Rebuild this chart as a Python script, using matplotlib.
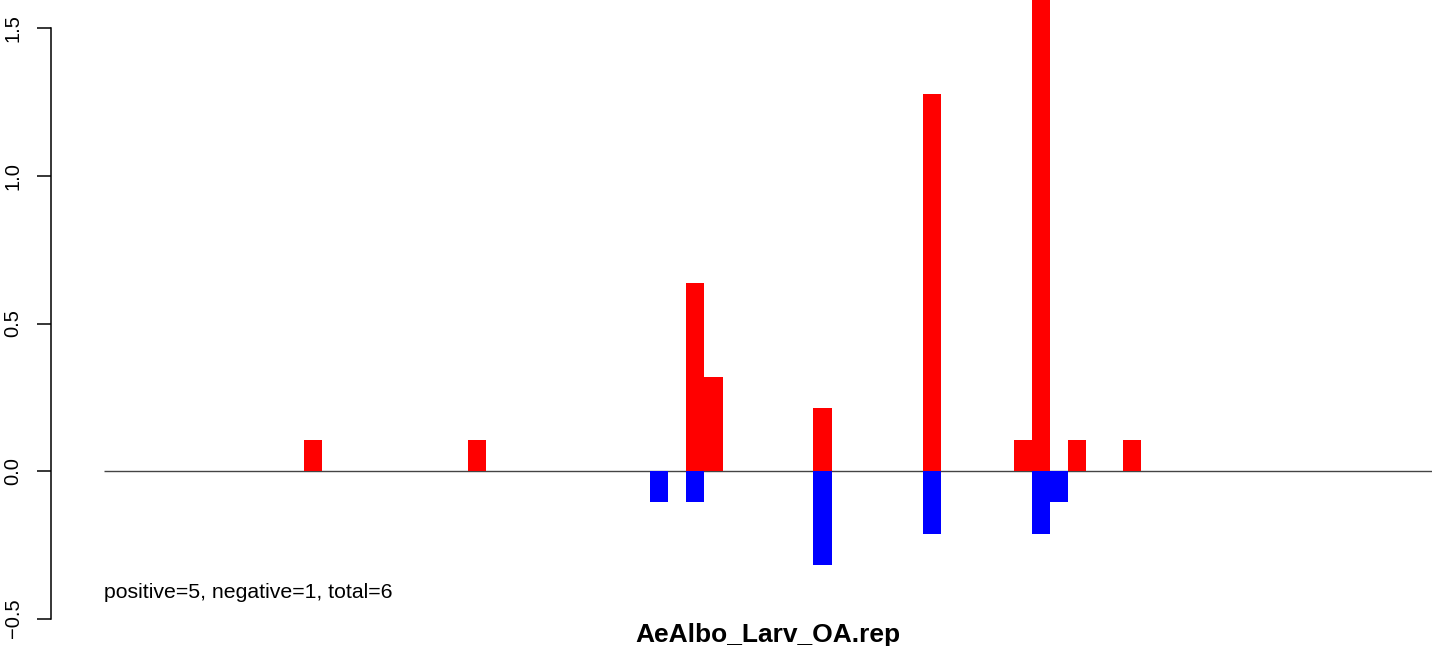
import matplotlib
matplotlib.use("Agg")
import matplotlib.pyplot as plt

# bin positions and heights
n_bins = 73
red_bins = [11, 20, 32, 33, 39, 45, 50, 51, 53, 56]
red_vals = [0.106, 0.106, 0.638, 0.319, 0.213, 1.277, 0.106, 1.70, 0.106, 0.106]
blue_bins = [30, 32, 39, 45, 51, 52]
blue_vals = [-0.106, -0.106, -0.319, -0.213, -0.213, -0.106]
y_ticks = [-0.5, 0.0, 0.5, 1.0, 1.5]
note = "positive=5, negative=1, total=6"
title = "AeAlbo_Larv_OA.rep"

plt.rcParams['font.family'] = ['Liberation Sans', 'DejaVu Sans']

W, H = 1441, 646
fig = plt.figure(figsize=(W / 100, H / 100), dpi=100)
ax = fig.add_axes([104 / W, 0, 1328 / W, 1])

ax.hlines(0, 0, n_bins, color='#444444', lw=1.0, zorder=1)
ax.bar(red_bins, red_vals, width=1, align='edge', color='#ff0000', lw=0, zorder=2)
ax.bar(blue_bins, blue_vals, width=1, align='edge', color='#0000ff', lw=0, zorder=2)

ax.set_xlim(0, n_bins)
ax.set_ylim(-(H - 471) / 295, 471 / 295)

for s in ['top', 'right', 'bottom']:
    ax.spines[s].set_visible(False)
ax.spines['left'].set_position(('outward', 53 * 0.72))
ax.spines['left'].set_bounds(-0.5, 1.5)
ax.spines['left'].set_linewidth(1.1)
ax.set_xticks([])
ax.set_yticks(y_ticks)
ax.set_yticklabels(['\u22120.5', '0.0', '0.5', '1.0', '1.5'], rotation=90, va='center')
ax.tick_params(axis='y', length=10, width=1.1, pad=10.5, labelsize=14.5)

ax.text(0, -(592 - 471) / 295, note, fontsize=15.3, ha='left', va='center')
fig.text(768 / W, 1 - 635 / H, title, fontsize=19, fontweight='bold', ha='center', va='center')

fig.savefig("out.png", dpi=100)
